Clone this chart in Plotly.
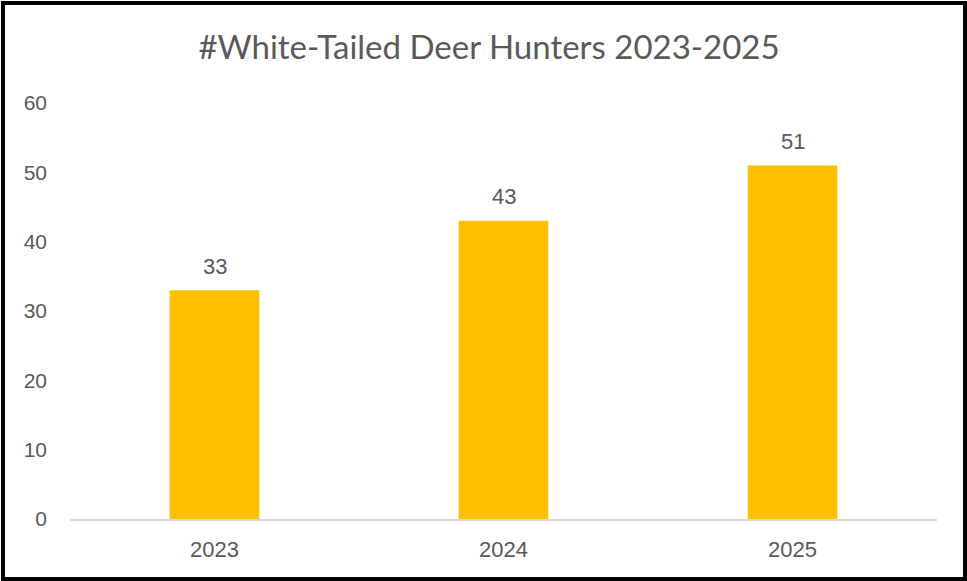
import plotly.graph_objects as go

years = ["2023", "2024", "2025"]
hunters = [33, 43, 51]
y_ticks = [0, 10, 20, 30, 40, 50, 60]

W, H = 967, 581
L, R, T, B = 70, 30, 103, 62
pw, ph = W - L - R, H - T - B

def px(x):
    return (x - L) / pw

def py(y):
    return (H - B - y) / ph

fig = go.Figure(go.Bar(
    x=years, y=hunters,
    marker=dict(color="#FFC000", line=dict(width=0)),
    hoverinfo="x+y",
))

# data labels: category axis positions are indices of the categories
for i, v in enumerate(hunters):
    fig.add_annotation(x=i, y=v, xref="x", yref="y", text=str(v), showarrow=False,
                       yanchor="middle", yshift=24,
                       font=dict(size=22, color="#595959", family="Liberation Sans"))

fig.update_layout(
    width=W, height=H,
    margin=dict(l=L, r=R, t=T, b=B),
    paper_bgcolor="white", plot_bgcolor="white",
    bargap=0.69,
    showlegend=False,
    title=dict(text="#White-Tailed Deer Hunters 2023-2025", x=489 / W, xanchor="center",
               xref="container", y=1 - 47 / H, yanchor="middle",
               font=dict(size=33, color="#595959", family="Lato")),
    font=dict(family="Liberation Sans", color="#595959", size=22),
    xaxis=dict(type="category", showgrid=False, showline=True, linecolor="#D9D9D9", linewidth=2,
               ticks="", ticklabelstandoff=10, tickfont=dict(size=22, color="#595959")),
    yaxis=dict(range=[0, 60], tickvals=y_ticks, showgrid=False, zeroline=False,
               showline=False, ticks="", ticklabelstandoff=22,
               tickfont=dict(size=21, color="#595959")),
    shapes=[dict(type="rect", xref="paper", yref="paper",
                 x0=px(3), x1=px(965), y0=py(579), y1=py(3),
                 line=dict(color="black", width=4), fillcolor="rgba(0,0,0,0)", layer="above")],
)

fig.write_html("out.html", config={"displayModeBar": False},
               post_script="document.body.style.margin='0';document.body.style.overflow='hidden';")
